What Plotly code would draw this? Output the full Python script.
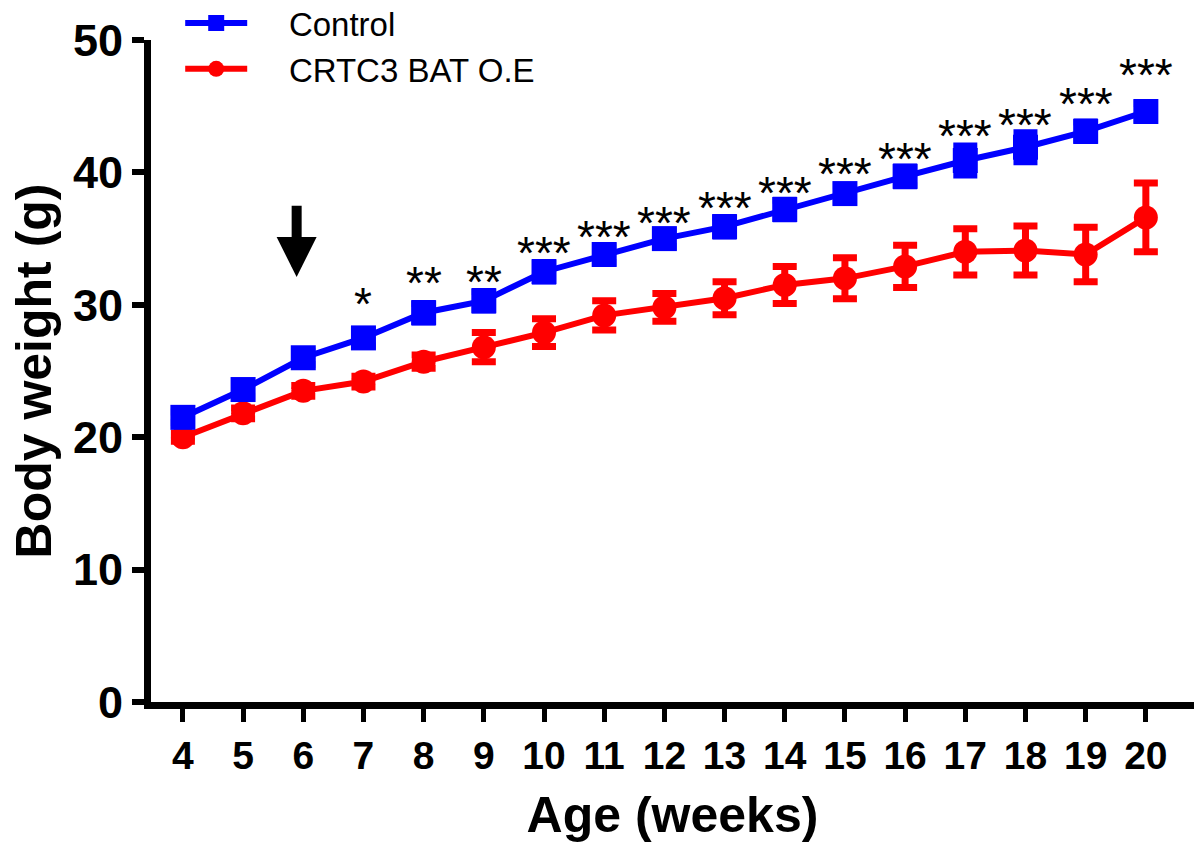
import plotly.graph_objects as go

weeks = list(range(4, 21))
control_mean = [21.5, 23.6, 26.0, 27.5, 29.4, 30.3, 32.5, 33.8, 35.0, 35.9, 37.2, 38.4, 39.7, 40.9, 41.9, 43.1, 44.6]
control_sem = [0.4, 0.5, 0.5, 0.6, 0.7, 0.7, 0.7, 0.6, 0.6, 0.7, 0.7, 0.6, 0.7, 1.1, 1.1, 0.7, 0.6]
crtc3_mean = [20.0, 21.8, 23.5, 24.2, 25.7, 26.8, 27.9, 29.2, 29.8, 30.5, 31.5, 32.0, 32.9, 34.0, 34.1, 33.8, 36.6]
crtc3_sem = [0.3, 0.4, 0.4, 0.4, 0.5, 1.1, 1.05, 1.1, 1.05, 1.25, 1.4, 1.55, 1.6, 1.75, 1.85, 2.05, 2.6]

star_weeks = list(range(7, 21))
star_text = ["*", "**", "**"] + ["***"] * 11
star_y = [30.8, 32.4, 32.5, 34.7, 35.9, 36.9, 38.1, 39.2, 40.6, 41.8, 43.5, 44.3, 45.9, 48.1]

arrow_week = 5.89
arrow_tip = 32.1
arrow_tail = 37.6

y_ticks = [0, 10, 20, 30, 40, 50]

BLUE = "#0000FF"
RED = "#FF0000"
PAD = "\u00a0\u00a0\u00a0\u00a0"

fig = go.Figure()

fig.add_trace(go.Scatter(
    x=weeks, y=crtc3_mean, name=PAD + "CRTC3 BAT O.E", mode="lines+markers",
    line=dict(color=RED, width=6),
    marker=dict(symbol="circle", size=24, color=RED),
    error_y=dict(type="data", array=crtc3_sem, visible=True, color=RED, thickness=7, width=12),
    legendrank=2, cliponaxis=False,
))
fig.add_trace(go.Scatter(
    x=weeks, y=control_mean, name=PAD + "Control", mode="lines+markers",
    line=dict(color=BLUE, width=6),
    marker=dict(symbol="square", size=25, color=BLUE),
    error_y=dict(type="data", array=control_sem, visible=True, color=BLUE, thickness=7, width=12),
    legendrank=1, cliponaxis=False,
))

for w, t, yv in zip(star_weeks, star_text, star_y):
    fig.add_annotation(x=w, y=yv, text=t, showarrow=False, xanchor="center", yanchor="middle",
                       yshift=-10, font=dict(family="Liberation Sans, Arial", size=46, color="black"))

fig.add_annotation(x=arrow_week, y=arrow_tip, ax=arrow_week, ay=arrow_tail, axref="x", ayref="y",
                   text="", showarrow=True, arrowhead=2, arrowwidth=10, arrowsize=0.8,
                   arrowcolor="black")

fig.update_layout(
    width=1200, height=852,
    margin=dict(l=151, r=6, t=40, b=150, autoexpand=False),
    paper_bgcolor="white", plot_bgcolor="white",
    showlegend=True,
    legend=dict(x=0.028, y=1.068, xanchor="left", yanchor="top", bgcolor="rgba(0,0,0,0)",
                font=dict(family="Liberation Sans, Arial", size=33, color="black"),
                itemwidth=62, tracegroupgap=0),
    xaxis=dict(range=[3.47, 20.8], tickvals=weeks, ticktext=[str(w) for w in weeks],
               showline=True, linecolor="black", linewidth=7, showgrid=False, zeroline=False,
               ticks="outside", ticklen=13, tickwidth=5, tickcolor="black",
               tickfont=dict(family="Liberation Sans, Arial", size=39, color="black", weight="bold"),
               title=dict(text="Age (weeks)", font=dict(family="Liberation Sans, Arial", size=50, color="black", weight="bold"), standoff=24)),
    yaxis=dict(range=[0, 50], tickvals=y_ticks, ticktext=[str(v) for v in y_ticks],
               showline=True, linecolor="black", linewidth=7, showgrid=False, zeroline=False,
               ticks="outside", ticklen=12, tickwidth=6, tickcolor="black",
               tickfont=dict(family="Liberation Sans, Arial", size=45, color="black", weight="bold"),
               title=dict(text="Body weight (g)", font=dict(family="Liberation Sans, Arial", size=50, color="black", weight="bold"), standoff=8)),
)

fig.write_html("out.html")
